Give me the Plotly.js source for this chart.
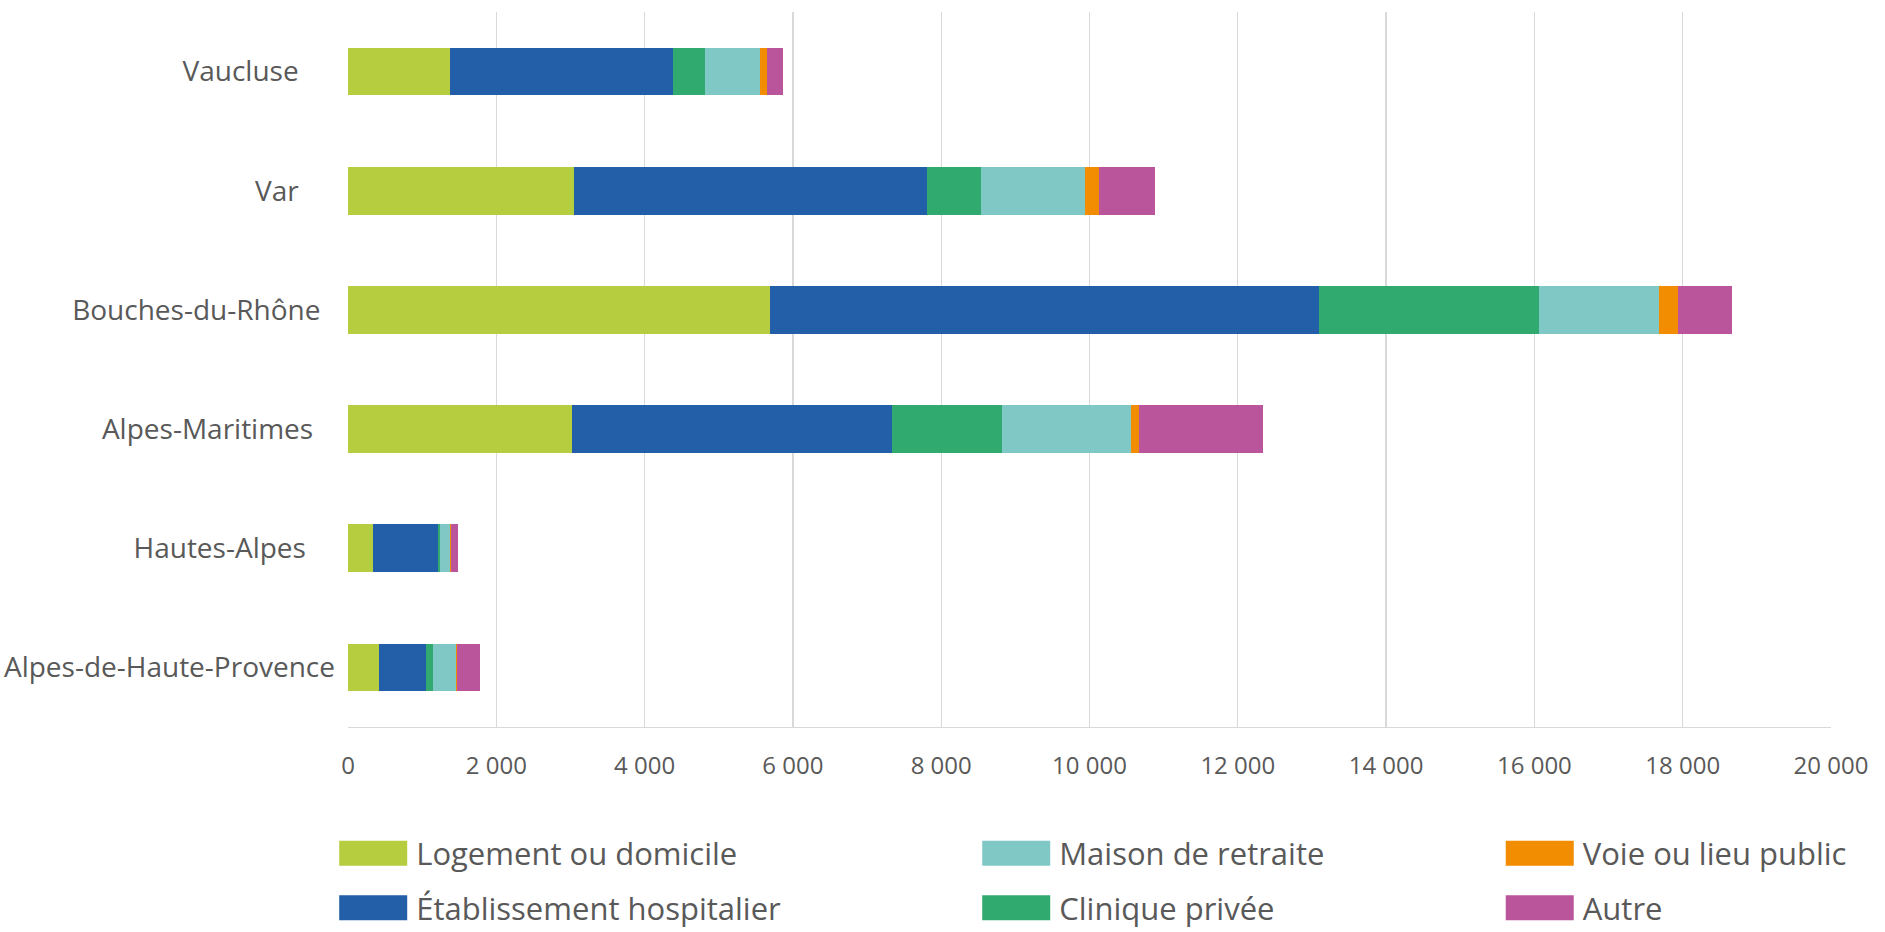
<!DOCTYPE html>
<html>
<head>
<meta charset="utf-8">
<script src="https://cdn.plot.ly/plotly-3.0.1.min.js"></script>
<style>
  html, body { margin: 0; padding: 0; background: #ffffff; }
  #chart { width: 1885px; height: 932px; }
</style>
</head>
<body>
<div id="chart"></div>
<script>
// Categories, bottom to top (as Plotly places them)
const departements = ['Alpes-de-Haute-Provence', 'Hautes-Alpes', 'Alpes-Maritimes', 'Bouches-du-Rhône', 'Var', 'Vaucluse'];
// Tick labels as in the source (with trailing spaces)
const departementLabels = ['Alpes-de-Haute-Provence', 'Hautes-Alpes\u00A0\u00A0\u00A0\u00A0', 'Alpes-Maritimes\u00A0\u00A0\u00A0', 'Bouches-du-Rhône\u00A0\u00A0', 'Var\u00A0\u00A0\u00A0\u00A0\u00A0', 'Vaucluse\u00A0\u00A0\u00A0\u00A0\u00A0'];

const logement       = [420, 335, 3015, 5690, 3050, 1380];
const etablissement  = [635, 885, 4315, 7405, 4755, 3000];
const clinique       = [90, 20, 1490, 2970, 730, 440];
const maison         = [305, 140, 1745, 1620, 1405, 740];
const voie           = [15, 15, 105, 250, 185, 85];
const autre          = [320, 85, 1670, 735, 755, 225];

const xTickVals  = [0, 2000, 4000, 6000, 8000, 10000, 12000, 14000, 16000, 18000, 20000];
const xTickText  = ['0', '2 000', '4 000', '6 000', '8 000', '10 000', '12 000', '14 000', '16 000', '18 000', '20 000'];

function bar(name, values, color, legend, rank) {
  return {
    type: 'bar', orientation: 'h', name: name,
    x: values, y: departements,
    marker: { color: color, line: { width: 0 } },
    legend: legend, legendrank: rank, legendgroup: name,
    hoverinfo: 'name+x'
  };
}

const traces = [
  bar('Logement ou domicile', logement, '#B7CD40', 'legend', 1),
  bar('Établissement hospitalier', etablissement, '#235EA8', 'legend', 2),
  bar('Clinique privée', clinique, '#30AA6E', 'legend2', 2),
  bar('Maison de retraite', maison, '#80C8C6', 'legend2', 1),
  bar('Voie ou lieu public', voie, '#F28C00', 'legend3', 1),
  bar('Autre', autre, '#BA559B', 'legend3', 2)
];

const legendFont = { family: 'Open Sans, sans-serif', size: 31, color: '#595959' };
function legendCfg(x) {
  return {
    x: x, xanchor: 'left', xref: 'paper',
    y: 0.113, yanchor: 'top', yref: 'container',
    orientation: 'v', traceorder: 'grouped', tracegroupgap: 11,
    itemwidth: 76, itemclick: false, itemdoubleclick: false,
    font: legendFont, bgcolor: 'rgba(0,0,0,0)', borderwidth: 0
  };
}

const layout = {
  width: 1885, height: 932,
  margin: { l: 348, r: 54, t: 12, b: 205, pad: 0, autoexpand: false },
  paper_bgcolor: '#ffffff', plot_bgcolor: '#ffffff',
  barmode: 'stack', bargap: 0.6,
  font: { family: 'Open Sans, sans-serif', color: '#595959' },
  showlegend: true,
  legend: legendCfg(-0.012),
  legend2: legendCfg(0.4216),
  legend3: legendCfg(0.7746),
  xaxis: {
    range: [0, 20000], tickvals: xTickVals, ticktext: xTickText,
    showgrid: true, gridcolor: '#D9D9D9', gridwidth: 1.3,
    zeroline: false, showline: true, linecolor: '#D9D9D9', linewidth: 1.3,
    ticks: '', ticklabelstandoff: 17,
    tickfont: { family: 'Open Sans, sans-serif', size: 24, color: '#595959' },
    fixedrange: true
  },
  yaxis: {
    type: 'category', categoryorder: 'array', categoryarray: departements,
    tickvals: departements, ticktext: departementLabels,
    showgrid: false, zeroline: false, showline: false, ticks: '',
    ticklabelstandoff: 12,
    tickfont: { family: 'Open Sans, sans-serif', size: 28, color: '#595959' },
    fixedrange: true
  }
};

Plotly.newPlot('chart', traces, layout, { displayModeBar: false, staticPlot: true }).then(function () {
  document.querySelectorAll('.legendpoints path').forEach(function (p) {
    p.setAttribute('d', 'M-34,-12.5H34V12.5H-34Z');
  });
});
</script>
</body>
</html>
